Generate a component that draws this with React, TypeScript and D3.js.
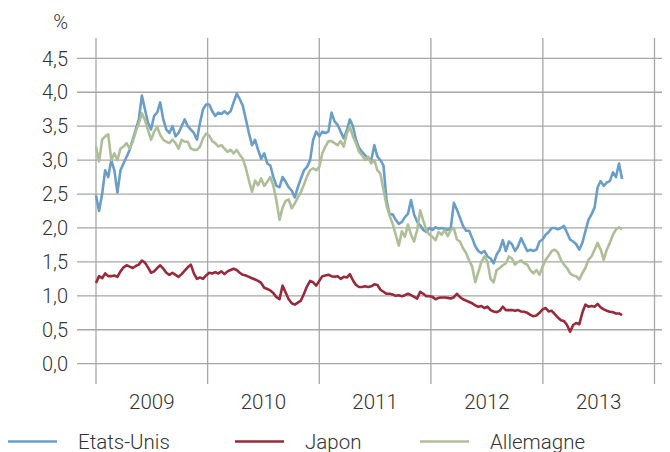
import React from 'react';
import * as d3 from 'd3';

// sampling: one value every 10 days starting 2009-01-01
const START = new Date(2009, 0, 1);
const STEP_DAYS = 10;

const yearLabels = ['2009', '2010', '2011', '2012', '2013'];
const yTicks = [0, 0.5, 1, 1.5, 2, 2.5, 3, 3.5, 4, 4.5];

const etatsUnis = [
  // 2009
  2.48, 2.25, 2.5, 2.85, 2.75, 3.0, 2.85, 2.52, 2.85, 2.95, 3.05, 3.15, 3.3, 3.45, 3.6, 3.95, 3.75, 3.55, 3.45,
  3.65, 3.7, 3.85, 3.6, 3.45, 3.4, 3.5, 3.35, 3.4, 3.5, 3.6, 3.5, 3.45, 3.4, 3.3, 3.55, 3.75, 3.82,
  // 2010
  3.82, 3.72, 3.65, 3.7, 3.68, 3.72, 3.68, 3.72, 3.85, 3.98, 3.9, 3.8, 3.6, 3.4, 3.22, 3.3, 3.15, 3.02, 3.1,
  2.95, 2.92, 2.75, 2.62, 2.6, 2.75, 2.68, 2.6, 2.55, 2.45, 2.6, 2.73, 2.85, 2.9, 3.0, 3.3, 3.42, 3.35,
  // 2011
  3.42, 3.4, 3.42, 3.7, 3.57, 3.52, 3.42, 3.32, 3.44, 3.6, 3.5, 3.3, 3.18, 3.12, 3.07, 3.02, 3.0, 3.22,
  3.05, 3.0, 2.92, 2.4, 2.2, 2.2, 2.12, 2.06, 2.09, 2.16, 2.21, 2.41, 2.2, 2.09, 2.04, 1.97, 1.94, 2.0,
  // 2012
  1.97, 2.01, 1.99, 2.0, 1.99, 1.97, 2.0, 2.37, 2.27, 2.15, 2.03, 1.96, 1.96, 1.85, 1.73, 1.66, 1.63, 1.66,
  1.58, 1.55, 1.48, 1.61, 1.68, 1.82, 1.66, 1.8, 1.76, 1.66, 1.73, 1.85, 1.75, 1.66, 1.68, 1.66, 1.68, 1.8,
  // 2013
  1.83, 1.9, 1.94, 2.0, 2.0, 1.98, 2.0, 2.03, 1.93, 1.83, 1.8, 1.76, 1.68, 1.78, 1.95, 2.12, 2.2, 2.3, 2.6,
  2.69, 2.62, 2.67, 2.69, 2.82, 2.75, 2.95, 2.72,
];

const japon = [
  // 2009
  1.19, 1.29, 1.26, 1.33, 1.29, 1.29, 1.3, 1.28, 1.36, 1.42, 1.45, 1.43, 1.41, 1.44, 1.46, 1.52, 1.49, 1.42,
  1.34, 1.36, 1.41, 1.45, 1.4, 1.34, 1.31, 1.34, 1.31, 1.28, 1.32, 1.37, 1.42, 1.46, 1.33, 1.25, 1.27, 1.25, 1.3,
  // 2010
  1.34, 1.33, 1.35, 1.33, 1.36, 1.32, 1.36, 1.38, 1.4, 1.38, 1.34, 1.31, 1.3, 1.28, 1.26, 1.24, 1.22, 1.19,
  1.12, 1.1, 1.08, 1.04, 0.98, 0.95, 1.15, 1.05, 0.95, 0.89, 0.87, 0.9, 0.93, 1.03, 1.14, 1.22, 1.2, 1.15, 1.22,
  // 2011
  1.29, 1.3, 1.31, 1.29, 1.28, 1.29, 1.25, 1.28, 1.27, 1.32, 1.23, 1.16, 1.13, 1.13, 1.14, 1.13, 1.14, 1.17,
  1.16, 1.09, 1.06, 1.03, 1.03, 1.02, 1.0, 1.01, 0.995, 1.01, 1.03, 1.01, 0.985, 0.96, 1.06, 1.03, 0.995, 0.995,
  // 2012
  0.985, 0.95, 0.97, 0.975, 0.975, 0.97, 0.96, 0.98, 1.03, 0.98, 0.95, 0.93, 0.91, 0.89, 0.86, 0.84, 0.85,
  0.82, 0.84, 0.79, 0.77, 0.76, 0.78, 0.84, 0.79, 0.79, 0.79, 0.78, 0.79, 0.77, 0.765, 0.75, 0.72, 0.7, 0.71, 0.75,
  // 2013
  0.8, 0.82, 0.77, 0.78, 0.73, 0.68, 0.64, 0.63, 0.57, 0.47, 0.57, 0.6, 0.58, 0.75, 0.87, 0.84, 0.85, 0.84,
  0.88, 0.83, 0.8, 0.78, 0.765, 0.76, 0.74, 0.74, 0.715,
];

const allemagne = [
  // 2009
  3.2, 2.98, 3.3, 3.35, 3.38, 3.0, 3.1, 3.0, 3.17, 3.2, 3.25, 3.17, 3.27, 3.42, 3.54, 3.69, 3.59, 3.44, 3.3,
  3.42, 3.49, 3.37, 3.3, 3.27, 3.25, 3.3, 3.25, 3.17, 3.3, 3.27, 3.27, 3.17, 3.15, 3.15, 3.2, 3.32, 3.39,
  // 2010
  3.36, 3.28, 3.25, 3.2, 3.22, 3.17, 3.12, 3.15, 3.1, 3.15, 3.08, 3.02, 2.88, 2.7, 2.53, 2.7, 2.63, 2.73, 2.62,
  2.68, 2.75, 2.62, 2.4, 2.12, 2.3, 2.4, 2.42, 2.29, 2.36, 2.45, 2.53, 2.64, 2.76, 2.85, 2.88, 2.85, 2.9,
  // 2011
  3.1, 3.2, 3.28, 3.28, 3.25, 3.22, 3.28, 3.2, 3.39, 3.49, 3.35, 3.25, 3.12, 3.07, 3.0, 3.05, 2.95, 3.0, 2.85,
  2.8, 2.56, 2.33, 2.18, 2.06, 1.9, 1.74, 1.95, 1.87, 2.05, 1.9, 1.8, 1.97, 2.26, 2.11, 1.97, 1.9,
  // 2012
  1.87, 1.82, 1.94, 1.9, 1.97, 1.88, 1.97, 2.0, 1.83, 1.8, 1.7, 1.63, 1.52, 1.43, 1.2, 1.35, 1.5, 1.58, 1.5,
  1.25, 1.2, 1.38, 1.41, 1.45, 1.48, 1.58, 1.55, 1.46, 1.5, 1.52, 1.48, 1.46, 1.38, 1.33, 1.38, 1.31,
  // 2013
  1.43, 1.53, 1.59, 1.66, 1.68, 1.64, 1.53, 1.46, 1.41, 1.33, 1.3, 1.29, 1.24, 1.33, 1.41, 1.53, 1.58, 1.68,
  1.78, 1.68, 1.53, 1.68, 1.78, 1.9, 1.98, 2.01, 1.98,
];

const seriesNames = ['Etats-Unis', 'Japon', 'Allemagne'];
const seriesColors = ['#6a9ec6', '#982a3b', '#aebf98'];
const seriesValues = [etatsUnis, japon, allemagne];

const W = 670;
const H = 452;
const FONT = 'Roboto, "Liberation Sans", sans-serif';

export default function App() {
  const x = d3
    .scaleTime()
    .domain([new Date(2009, 0, 1), new Date(2014, 0, 1)])
    .range([96, 654.5]);
  const y = d3.scaleLinear().domain([0, 4.5]).range([363.7, 58.3]);

  const dateAt = (i: number) => d3.timeDay.offset(START, i * STEP_DAYS);
  const line = d3
    .line<number>()
    .x((_, i) => x(dateAt(i)))
    .y((d) => y(d));

  const years = d3.timeYear.range(new Date(2009, 0, 1), new Date(2014, 0, 2));

  const order = [0, 1, 2];
  const legendX = [8, 235, 420];

  return (
    <svg width={W} height={H} style={{ position: 'absolute', left: 0, top: 0, background: '#fff' }}>
      {/* horizontal grid */}
      {yTicks.map((t) => (
        <line key={'h' + t} x1={77} x2={662} y1={y(t)} y2={y(t)} stroke="#a6a6a6" strokeWidth={1.3} />
      ))}
      {/* vertical grid */}
      {years.map((d, i) => (
        <line key={'v' + i} x1={x(d)} x2={x(d)} y1={38} y2={384} stroke="#a6a6a6" strokeWidth={1.3} />
      ))}
      {/* y tick labels */}
      {yTicks.map((t) => (
        <text
          key={'t' + t}
          x={68}
          y={y(t)}
          dy="0.36em"
          textAnchor="end"
          fontFamily={FONT}
          fontWeight={300}
          fontSize={20}
          fill="#333"
        >
          {d3.format('.1f')(t).replace('.', ',')}
        </text>
      ))}
      <text x={68} y={29} textAnchor="end" fontFamily={FONT} fontWeight={300} fontSize={20} fill="#333">
        %
      </text>
      {/* year labels */}
      {yearLabels.map((lab, i) => {
        const a = x(new Date(2009 + i, 0, 1));
        const b = x(new Date(2010 + i, 0, 1));
        return (
          <text
            key={lab}
            x={(a + b) / 2}
            y={409}
            textAnchor="middle"
            fontFamily={FONT}
            fontWeight={300}
            fontSize={20.5}
            fill="#333"
          >
            {lab}
          </text>
        );
      })}
      {/* lines */}
      {order.map((k) => (
        <path
          key={seriesNames[k]}
          d={line(seriesValues[k]) || ''}
          fill="none"
          stroke={seriesColors[k]}
          strokeWidth={2.6}
          strokeLinejoin="round"
        />
      ))}
      {/* legend */}
      {seriesNames.map((n, k) => (
        <g key={'lg' + n}>
          <line x1={legendX[k]} x2={legendX[k] + 49} y1={441.5} y2={441.5} stroke={seriesColors[k]} strokeWidth={2.6} />
          <text
            x={legendX[k] + 70}
            y={449}
            fontFamily={FONT}
            fontWeight={300}
            fontSize={20.5}
            fill="#333"
          >
            {n}
          </text>
        </g>
      ))}
    </svg>
  );
}
